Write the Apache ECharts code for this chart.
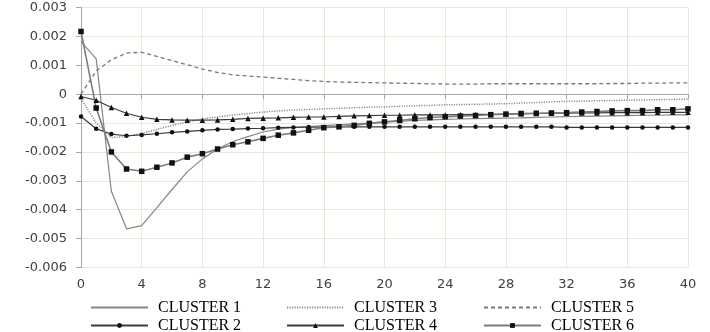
<!DOCTYPE html>
<html>
<head>
<meta charset="utf-8">
<script src="https://cdn.jsdelivr.net/npm/echarts@6/dist/echarts.min.js"></script>
<style>
  html, body { margin: 0; padding: 0; background: #ffffff; }
  #chart { width: 710px; height: 332px; }
</style>
</head>
<body>
<div id="chart"></div>
<script>
// Impulse responses by cluster over 40 periods
const periods = [0, 1, 2, 3, 4, 5, 6, 7, 8, 9, 10, 11, 12, 13, 14, 15, 16, 17, 18, 19, 20,
                 21, 22, 23, 24, 25, 26, 27, 28, 29, 30, 31, 32, 33, 34, 35, 36, 37, 38, 39, 40];

const cluster1 = [0.00183, 0.00122, -0.00336, -0.00466, -0.00455, -0.00393, -0.00330, -0.00269, -0.00224, -0.00190,
                  -0.00164, -0.00147, -0.00131, -0.00121, -0.00115, -0.00112, -0.00109, -0.00106, -0.00103, -0.00100,
                  -0.00097, -0.00094, -0.00091, -0.00089, -0.00087, -0.00086, -0.00085, -0.00084, -0.00083, -0.00082,
                  -0.00080, -0.00079, -0.00078, -0.00077, -0.00076, -0.00075, -0.00074, -0.00073, -0.00073, -0.00072,
                  -0.00072];
const cluster2 = [-0.00077, -0.00120, -0.00138, -0.00144, -0.00141, -0.00137, -0.00132, -0.00129, -0.00125, -0.00122,
                  -0.00121, -0.00119, -0.00118, -0.00116, -0.00115, -0.00114, -0.00114, -0.00113, -0.00113, -0.00113,
                  -0.00113, -0.00113, -0.00113, -0.00113, -0.00113, -0.00113, -0.00113, -0.00113, -0.00113, -0.00113,
                  -0.00113, -0.00113, -0.00115, -0.00115, -0.00115, -0.00115, -0.00115, -0.00115, -0.00115, -0.00115,
                  -0.00115];
const cluster3 = [-0.00015, -0.00100, -0.00150, -0.00147, -0.00136, -0.00122, -0.00108, -0.00096, -0.00086, -0.00079,
                  -0.00072, -0.00067, -0.00062, -0.00058, -0.00055, -0.00053, -0.00051, -0.00049, -0.00047, -0.00045,
                  -0.00044, -0.00042, -0.00040, -0.00039, -0.00037, -0.00036, -0.00035, -0.00034, -0.00033, -0.00031,
                  -0.00029, -0.00027, -0.00025, -0.00024, -0.00023, -0.00022, -0.00021, -0.00020, -0.00019, -0.00018,
                  -0.00017];
const cluster4 = [-0.00008, -0.00021, -0.00046, -0.00066, -0.00080, -0.00087, -0.00089, -0.00090, -0.00090, -0.00089,
                  -0.00087, -0.00084, -0.00083, -0.00082, -0.00080, -0.00079, -0.00079, -0.00077, -0.00075, -0.00074,
                  -0.00073, -0.00073, -0.00072, -0.00072, -0.00072, -0.00071, -0.00070, -0.00070, -0.00069, -0.00068,
                  -0.00067, -0.00066, -0.00066, -0.00065, -0.00065, -0.00064, -0.00064, -0.00064, -0.00063, -0.00063,
                  -0.00063];
const cluster5 = [0.00000, 0.00080, 0.00119, 0.00142, 0.00145, 0.00131, 0.00116, 0.00102, 0.00087, 0.00075,
                  0.00067, 0.00063, 0.00059, 0.00055, 0.00051, 0.00047, 0.00044, 0.00042, 0.00041, 0.00040,
                  0.00039, 0.00038, 0.00037, 0.00036, 0.00035, 0.00035, 0.00035, 0.00036, 0.00036, 0.00036,
                  0.00036, 0.00036, 0.00036, 0.00036, 0.00036, 0.00037, 0.00037, 0.00038, 0.00038, 0.00039,
                  0.00039];
const cluster6 = [0.00217, -0.00048, -0.00200, -0.00259, -0.00267, -0.00253, -0.00238, -0.00218, -0.00206, -0.00190,
                  -0.00175, -0.00165, -0.00153, -0.00142, -0.00134, -0.00125, -0.00116, -0.00113, -0.00108, -0.00101,
                  -0.00096, -0.00091, -0.00085, -0.00081, -0.00078, -0.00076, -0.00074, -0.00071, -0.00069, -0.00067,
                  -0.00066, -0.00065, -0.00064, -0.00062, -0.00060, -0.00058, -0.00057, -0.00057, -0.00054, -0.00054,
                  -0.00051];

const seriesNames = ['CLUSTER 1', 'CLUSTER 2', 'CLUSTER 3', 'CLUSTER 4', 'CLUSTER 5', 'CLUSTER 6'];
const seriesValues = [cluster1, cluster2, cluster3, cluster4, cluster5, cluster6];

const pair = (vals) => periods.map((p, i) => [p, vals[i]]);

const lineStyles = [
  { color: '#868686', width: 1.2, type: 'solid' },
  { color: '#3c3c3c', width: 1.2, type: 'solid' },
  { color: '#8c8c8c', width: 1.5, type: [1.2, 1.3] },
  { color: '#3c3c3c', width: 1.2, type: 'solid' },
  { color: '#7a7a7a', width: 1.3, type: [4, 3] },
  { color: '#7c7c7c', width: 1.6, type: 'solid' }
];
const symbols = ['none', 'circle', 'none', 'triangle', 'none', 'rect'];
const symbolSizes = [0, 4.5, 0, 5.5, 0, 5.5];

const series = seriesNames.map((name, i) => ({
  name: name,
  type: 'line',
  data: pair(seriesValues[i]),
  showSymbol: symbols[i] !== 'none',
  symbol: symbols[i],
  symbolSize: symbolSizes[i],
  itemStyle: { color: '#111111' },
  lineStyle: lineStyles[i],
  emphasis: { disabled: true },
  animation: false,
  z: i === 1 || i === 3 || i === 5 ? 3 : 2
}));

// one legend entry per slot, laid out in two rows of three
const legendLeft = [85, 85, 281, 281, 478, 478];
const legendTop = [292, 310, 292, 310, 292, 310];
const legends = seriesNames.map((name, i) => ({
  data: [symbols[i] === 'none'
    ? { name: name, itemStyle: { opacity: 0 } }
    : { name: name }],
  left: legendLeft[i],
  top: legendTop[i],
  itemWidth: 57,
  itemHeight: 6,
  selectedMode: false,
  textStyle: {
    fontFamily: 'Liberation Serif',
    fontSize: 16,
    color: '#000000',
    lineHeight: 16,
    padding: [0, 0, 5, 5]
  }
}));

const chart = echarts.init(document.getElementById('chart'), null, { renderer: 'canvas' });
chart.setOption({
  backgroundColor: '#ffffff',
  animation: false,
  grid: { left: 81, right: 22, top: 7.5, bottom: 64.5, containLabel: false },
  legend: legends,
  xAxis: [
    {
      type: 'value',
      min: 0, max: 40, interval: 4,
      axisLine: { show: true, onZero: true, lineStyle: { color: '#a6a6a6', width: 1 } },
      axisTick: { show: true, length: 5, lineStyle: { color: '#a6a6a6' } },
      axisLabel: { show: false },
      splitLine: { show: true, lineStyle: { color: '#ebe7d6', width: 1 } }
    },
    {
      type: 'value',
      position: 'bottom',
      min: 0, max: 40, interval: 4,
      axisLine: { show: false, onZero: false },
      axisTick: { show: false },
      splitLine: { show: false },
      axisLabel: {
        show: true, margin: 11,
        fontFamily: 'DejaVu Sans', fontSize: 13, color: '#404040'
      }
    }
  ],
  yAxis: {
    type: 'value',
    min: -0.006, max: 0.003, interval: 0.001,
    axisLine: { show: true, lineStyle: { color: '#a6a6a6', width: 1 } },
    axisTick: { show: true, length: 5, lineStyle: { color: '#a6a6a6' } },
    splitLine: { show: true, lineStyle: { color: '#ebe7d6', width: 1 } },
    axisLabel: {
      margin: 14,
      fontFamily: 'DejaVu Sans', fontSize: 13, color: '#404040',
      formatter: (v) => Math.abs(v) < 1e-9 ? '0' : v.toFixed(3)
    }
  },
  series: series
});
</script>
</body>
</html>
